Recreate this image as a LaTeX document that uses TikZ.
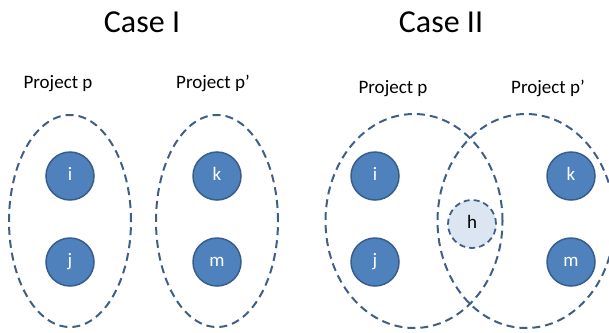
\documentclass[tikz,border=0pt]{standalone}
\usepackage{fontspec}
\setmainfont{Carlito}
\usetikzlibrary{shapes}
\usetikzlibrary{positioning}
\definecolor{nodeblue}{HTML}{4F81BD}
\definecolor{nodeedge}{HTML}{385D8A}
\definecolor{setline}{HTML}{3F5F86}
\definecolor{hfill}{HTML}{DCE6F2}
\tikzstyle{mem} = [circle, draw=nodeedge, fill=nodeblue, line width=1.5pt,
    minimum size=48pt, inner sep=0pt, text=white, text height=9pt, text depth=0pt,
    font=\fontsize{19}{22}\selectfont]
\tikzstyle{shared} = [mem, draw=setline, fill=hfill, text=black,
    line width=1.8pt, dash pattern=on 6pt off 4pt]
\tikzstyle{set} = [ellipse, draw=setline, dash pattern=on 8pt off 5pt,
    line width=2pt, inner sep=0pt]
\tikzstyle{lbl} = [anchor=base, font=\fontsize{19}{22}\selectfont]
\tikzstyle{case} = [anchor=base, font=\fontsize{32}{36}\selectfont]

\begin{document}
\begin{tikzpicture}[x=1pt,y=-1pt,node distance=86pt]
  \useasboundingbox (0,0) rectangle (609,332);

  % Case I
  \node[case] (c1) at (142,32) {Case I};
  \node[lbl]  (p1) at (58,88)  {Project p};
  \node[lbl]  (q1) at (213,88) {Project p’};
  \node[set, minimum width=122pt, minimum height=212pt] (s1) at (70,221) {};
  \node[set, minimum width=122pt, minimum height=212pt] (t1) at (217,221) {};
  \node[mem] (i1) at (70,176)  {i};
  \node[mem] (j1) [below of=i1] {j};
  \node[mem] (k1) at (217,176) {k};
  \node[mem] (m1) [below of=k1] {m};

  % Case II
  \node[case] (c2) at (441,32) {Case II};
  \node[lbl]  (p2) at (393,93) {Project p};
  \node[lbl]  (q2) at (548,93) {Project p’};
  \node[set, minimum width=177pt, minimum height=214pt] (s2) at (414,221) {};
  \node[set, minimum width=177pt, minimum height=214pt] (t2) at (526,221) {};
  \node[mem] (i2) at (375,176)  {i};
  \node[mem] (j2) [below of=i2] {j};
  \node[mem] (k2) at (571,176)  {k};
  \node[mem] (m2) [below of=k2] {m};
  \node[shared] (h) at (472,224) {h};
\end{tikzpicture}
\end{document}
